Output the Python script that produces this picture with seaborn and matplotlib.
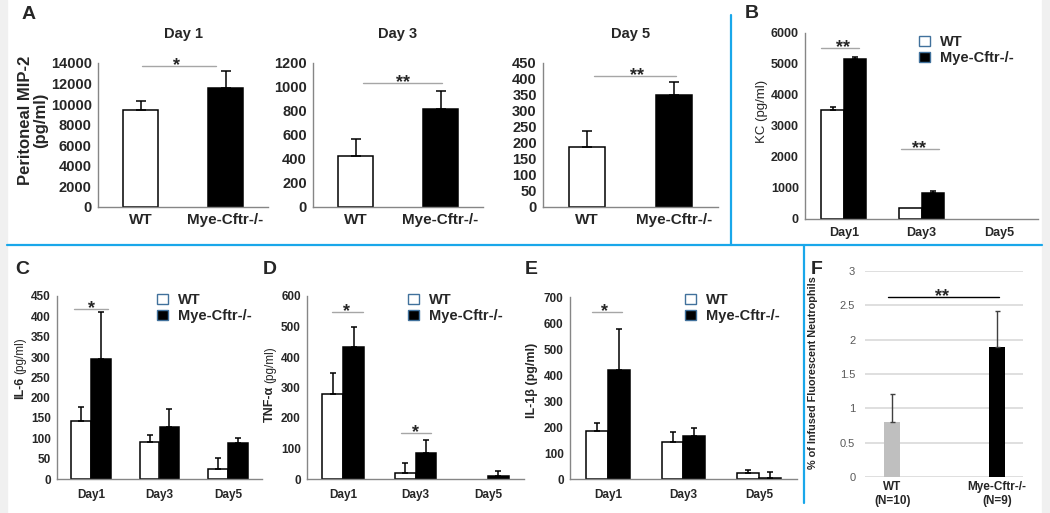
import matplotlib
matplotlib.use("Agg")
import matplotlib.pyplot as plt
from matplotlib.patches import Patch, Rectangle
from matplotlib.lines import Line2D
import numpy as np
import pandas as pd
import seaborn as sns

# ---------------------------
# Data
# ---------------------------
genotypes = ["WT", "Mye-Cftr-/-"]
days = ["Day1", "Day3", "Day5"]

# A: peritoneal MIP-2 (pg/ml)
mip2_day1 = [9400, 11550]
mip2_day1_err = [900, 1650]
mip2_day3 = [427, 817]
mip2_day3_err = [142, 150]
mip2_day5 = [188, 350]
mip2_day5_err = [50, 42]

# B: KC (pg/ml)
kc_wt = [3530, 365, 0]
kc_wt_err = [80, 0, 0]
kc_mye = [5150, 850, 0]
kc_mye_err = [60, 40, 0]

# C: IL-6 (pg/ml)
il6_wt = [143, 90, 24]
il6_wt_err = [34, 17, 27]
il6_mye = [294, 127, 88]
il6_mye_err = [116, 44, 14]

# D: TNF-a (pg/ml)
tnf_wt = [278, 19, 0]
tnf_wt_err = [71, 35, 0]
tnf_mye = [434, 86, 11]
tnf_mye_err = [66, 42, 16]

# E: IL-1b (pg/ml)
il1b_wt = [185, 142, 24]
il1b_wt_err = [32, 39, 9]
il1b_mye = [418, 165, 4]
il1b_mye_err = [158, 32, 23]

# F: % of infused fluorescent neutrophils
f_labels = ["WT\n(N=10)", "Mye-Cftr-/-\n(N=9)"]
f_values = [0.80, 1.89]
f_err = [0.41, 0.53]

# ---------------------------
# Style
# ---------------------------
sns.set_theme(style="white")
plt.rcParams["font.family"] = ["Liberation Sans", "DejaVu Sans"]

W, H = 1050, 513
AXIS_GRAY = "#868686"
SIG_GRAY = "#a6a6a6"
BLUE = "#19a7ea"
PAL = {"WT": "white", "Mye-Cftr-/-": "black"}

fig = plt.figure(figsize=(W / 100, H / 100), dpi=100)
fig.patch.set_facecolor("white")


def px_axes(x0, x1, y0, y1):
    return fig.add_axes([x0 / W, 1 - y1 / H, (x1 - x0) / W, (y1 - y0) / H])


def fx(x):
    return x / W


def fy(y):
    return 1 - y / H


def style_axes(ax, ticks, ysize, xsize, xpad):
    ax.set_ylim(ticks[0], ticks[-1])
    ax.set_yticks(ticks)
    ax.set_yticklabels([f"{t:g}" for t in ticks])
    ax.set_xlabel("")
    ax.set_ylabel("")
    for s in ["top", "right"]:
        ax.spines[s].set_visible(False)
    for s in ["left", "bottom"]:
        ax.spines[s].set_color(AXIS_GRAY)
        ax.spines[s].set_linewidth(1)
    ax.tick_params(axis="y", length=2.5, width=1, color=AXIS_GRAY, pad=2, labelsize=ysize)
    ax.tick_params(axis="x", length=0, pad=xpad, labelsize=xsize)
    for lab in ax.get_xticklabels() + ax.get_yticklabels():
        lab.set_fontweight("bold")
    ax.set_facecolor("none")


def add_errors(ax, errs, capsize, color="black", lw=1.1):
    for cont, err in zip(ax.containers, errs):
        for bar, e in zip(cont, err):
            if bar.get_height() == 0:
                bar.set_visible(False)
            if e <= 0:
                continue
            xc = bar.get_x() + bar.get_width() / 2
            ax.errorbar(xc, bar.get_height(), yerr=[[0], [e]], fmt="none", ecolor=color,
                        elinewidth=lw, capsize=capsize, capthick=lw, zorder=3)


def sig(ax, x0, x1, y, text, xt=None, color=SIG_GRAY, size=13):
    ax.plot([x0, x1], [y, y], color=color, lw=1, clip_on=False, zorder=4)
    if xt is None:
        xt = (x0 + x1) / 2
    ax.annotate(text, (xt, y), xytext=(0, -3), textcoords="offset points", ha="center",
                va="baseline", fontsize=size, fontweight="bold", annotation_clip=False)


def legend(ax, x, y, size=10.5):
    handles = [Patch(facecolor="white", edgecolor="#41719c", lw=1),
               Patch(facecolor="black", edgecolor="#41719c", lw=1)]
    leg = ax.legend(handles, genotypes, loc="upper left", bbox_to_anchor=(fx(x), fy(y)),
                    bbox_transform=fig.transFigure, frameon=False, borderpad=0, borderaxespad=0,
                    handlelength=0.75, handleheight=0.75, handletextpad=0.7, labelspacing=0.15,
                    prop={"size": size, "weight": "bold"})
    return leg


def grouped_df(wt, mye):
    return pd.DataFrame({"day": days * 2,
                         "genotype": [genotypes[0]] * 3 + [genotypes[1]] * 3,
                         "value": list(wt) + list(mye)})


# ---------------------------
# Panel A: three two-bar plots
# ---------------------------
panel_a = [
    ("Day 1", mip2_day1, mip2_day1_err, 98, 268, [0, 2000, 4000, 6000, 8000, 10000, 12000, 14000]),
    ("Day 3", mip2_day3, mip2_day3_err, 313, 483, [0, 200, 400, 600, 800, 1000, 1200]),
    ("Day 5", mip2_day5, mip2_day5_err, 543, 718, [0, 50, 100, 150, 200, 250, 300, 350, 400, 450]),
]
axes_a = []
for title, vals, errs, x0, x1, ticks in panel_a:
    ax = px_axes(x0, x1, 63, 207)
    df = pd.DataFrame({"group": genotypes, "value": vals})
    sns.barplot(data=df, x="group", y="value", hue="group", palette=PAL, width=0.41,
                edgecolor="black", linewidth=1.1, errorbar=None, legend=False, ax=ax)
    ax.set_xlim(-0.5, 1.5)
    style_axes(ax, ticks, 10.5, 11, 4)
    add_errors(ax, [[errs[0]], [errs[1]]], capsize=3.5)
    fig.text(fx((x0 + x1) / 2), fy(34), title, ha="center", va="center", fontsize=10.5,
             fontweight="bold")
    axes_a.append(ax)

sig(axes_a[0], 0.02, 0.89, 13700, "*", xt=0.42)
sig(axes_a[1], 0.09, 1.02, 1033, "**", xt=0.56)
sig(axes_a[2], 0.08, 1.02, 409, "**", xt=0.57)

fig.text(fx(33), fy(120), "Peritoneal MIP-2\n(pg/ml)", rotation=90, ha="center", va="center",
         multialignment="center", fontsize=12, fontweight="bold", linespacing=1.0)

# ---------------------------
# Panel B: KC
# ---------------------------
ax_b = px_axes(805, 1038, 33, 219)
sns.barplot(data=grouped_df(kc_wt, kc_mye), x="day", y="value", hue="genotype", palette=PAL,
            width=0.58, edgecolor="black", linewidth=1.1, errorbar=None, legend=False, ax=ax_b)
ax_b.set_xlim(-0.5, 2.5)
style_axes(ax_b, [0, 1000, 2000, 3000, 4000, 5000, 6000], 9, 9, 6)
add_errors(ax_b, [kc_wt_err, kc_mye_err], capsize=2)
sig(ax_b, -0.30, 0.19, 5516, "**", xt=-0.01)
sig(ax_b, 0.73, 1.23, 2258, "**", xt=0.97)
legend(ax_b, 919, 35)
fig.text(fx(762), fy(111), "KC (pg/ml)", rotation=90, ha="center", va="center", fontsize=9.5)

# ---------------------------
# Panels C, D, E: cytokines
# ---------------------------
def mixed_ylabel(x, y_bottom, bold_part, normal_part, bold_size=9, normal_size=8.5):
    t = fig.text(fx(x), fy(y_bottom), bold_part, rotation=90, ha="center", va="bottom",
                 fontsize=bold_size, fontweight="bold")
    bb = t.get_window_extent(renderer=fig.canvas.get_renderer())
    fig.text(fx(x), (bb.y1 + 3) / H, normal_part, rotation=90, ha="center", va="bottom",
             fontsize=normal_size)


panel_cde = [
    (il6_wt, il6_mye, il6_wt_err, il6_mye_err, 57, 262, 296,
     [0, 50, 100, 150, 200, 250, 300, 350, 400, 450], 157),
    (tnf_wt, tnf_mye, tnf_wt_err, tnf_mye_err, 307, 524, 296,
     [0, 100, 200, 300, 400, 500, 600], 408),
    (il1b_wt, il1b_mye, il1b_wt_err, il1b_mye_err, 570, 797, 297,
     [0, 100, 200, 300, 400, 500, 600, 700], 685),
]
axes_cde = []
for wt, mye, wt_err, mye_err, x0, x1, y0, ticks, leg_x in panel_cde:
    ax = px_axes(x0, x1, y0, 479)
    sns.barplot(data=grouped_df(wt, mye), x="day", y="value", hue="genotype", palette=PAL,
                width=0.58, edgecolor="black", linewidth=1.1, errorbar=None, legend=False, ax=ax)
    ax.set_xlim(-0.5, 2.5)
    style_axes(ax, ticks, 8.5, 8.5, 7)
    add_errors(ax, [wt_err, mye_err], capsize=2)
    legend(ax, leg_x, 293)
    axes_cde.append(ax)

sig(axes_cde[0], -0.25, 0.25, 417, "*", xt=0.0)
sig(axes_cde[1], -0.15, 0.27, 548, "*", xt=0.05)
sig(axes_cde[1], 0.80, 1.21, 150, "*", xt=1.0)
sig(axes_cde[2], -0.21, 0.19, 642, "*", xt=-0.05)

mixed_ylabel(20, 399, "IL-6", "(pg/ml)")
mixed_ylabel(270, 422, "TNF-\u03b1", "(pg/ml)")
fig.text(fx(532), fy(380), "IL-1\u03b2 (pg/ml)", rotation=90, ha="center", va="center",
         fontsize=9, fontweight="bold")

# ---------------------------
# Panel F: infused neutrophils
# ---------------------------
ax_f = px_axes(865, 1023, 271, 477)
df_f = pd.DataFrame({"group": f_labels, "value": f_values})
sns.barplot(data=df_f, x="group", y="value", hue="group",
            palette={f_labels[0]: "#bfbfbf", f_labels[1]: "black"}, width=0.15,
            linewidth=0, errorbar=None, legend=False, ax=ax_f, zorder=3)
ax_f.set_xlim(-0.26, 1.25)
ax_f.set_ylim(0, 3)
f_ticks = [0, 0.5, 1, 1.5, 2, 2.5, 3]
ax_f.set_yticks(f_ticks)
ax_f.set_yticklabels([f"{t:g}" for t in f_ticks])
ax_f.set_xlabel("")
ax_f.set_ylabel("")
ax_f.grid(axis="y", color="#d9d9d9", lw=1.2, zorder=0)
ax_f.set_axisbelow(True)
for s in ax_f.spines.values():
    s.set_visible(False)
ax_f.tick_params(axis="y", length=0, pad=7, labelsize=8, labelcolor="#595959")
ax_f.tick_params(axis="x", length=0, pad=3, labelsize=8.5)
for lab in ax_f.get_xticklabels():
    lab.set_fontweight("bold")
ax_f.set_facecolor("none")
add_errors(ax_f, [[f_err[0]], [f_err[1]]], capsize=1.8, color="#404040", lw=1)
sig(ax_f, -0.04, 1.02, 2.62, "**", xt=0.48, color="black")
fig.text(fx(813), fy(373), "% of Infused Fluorescent Neutrophils", rotation=90, ha="center",
         va="center", fontsize=7.8, fontweight="bold")

# ---------------------------
# Panel letters, separators, frame
# ---------------------------
for letter, x, y in [("A", 29, 15), ("B", 752, 14), ("C", 22, 269), ("D", 270, 269),
                     ("E", 531, 269), ("F", 817, 269)]:
    fig.text(fx(x), fy(y), letter, ha="center", va="center", fontsize=14, fontweight="bold")

fig.add_artist(Line2D([fx(7), fx(1042)], [fy(245), fy(245)], color=BLUE, lw=1.6))
fig.add_artist(Line2D([fx(731), fx(731)], [fy(15), fy(245)], color=BLUE, lw=1.6))
fig.add_artist(Line2D([fx(804), fx(804)], [fy(245), fy(503)], color=BLUE, lw=1.6))
fig.add_artist(Rectangle((0, 0), fx(7), 1, transform=fig.transFigure, color="#f0f0f0", zorder=-1))
fig.add_artist(Rectangle((fx(1042), 0), 1 - fx(1042), 1, transform=fig.transFigure,
                         color="#f0f0f0", zorder=-1))

fig.savefig("out.png", dpi=100, facecolor="white")
print("saved out.png")
